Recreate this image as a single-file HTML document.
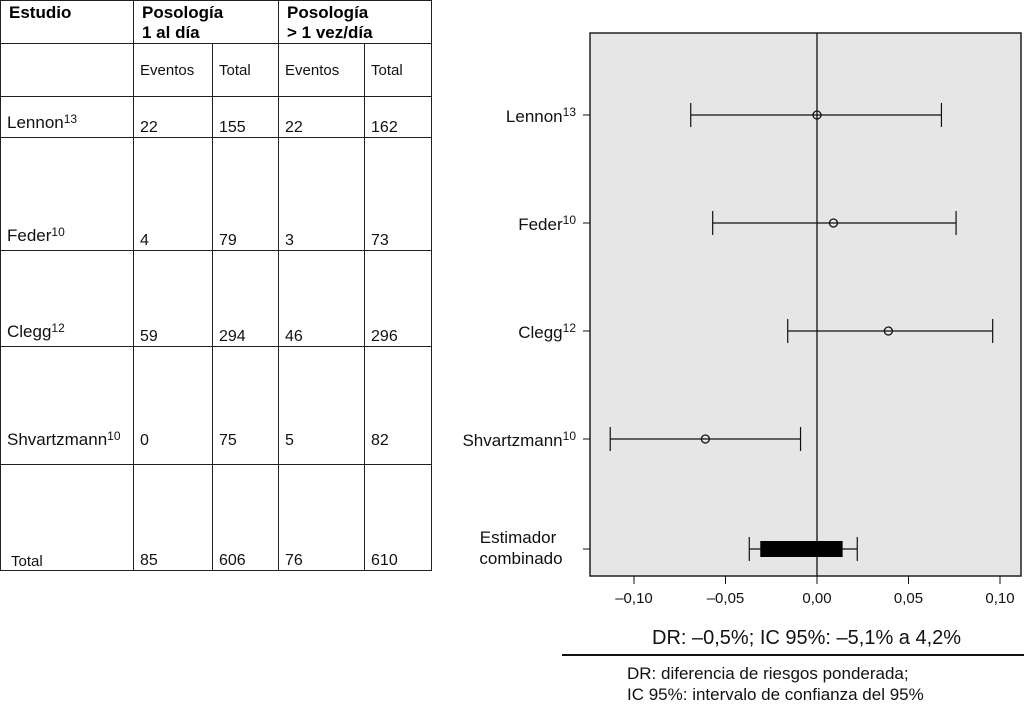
<!DOCTYPE html>
<html><head><meta charset="utf-8"><style>
body{margin:0;width:1024px;height:706px;background:#fff;font-family:"Liberation Sans",sans-serif;overflow:hidden;position:relative}
table{position:absolute;left:0;top:0;border-collapse:collapse;table-layout:fixed;width:431px}
td{border:1.5px solid #222;padding:0 0 0 6px;font-size:16px;vertical-align:bottom;color:#111}
th{border:1.5px solid #222;padding:2px 0 0 8px;font-size:17px;text-align:left;vertical-align:top;line-height:20px}
sup{font-size:12px;vertical-align:5px}
.sh td{vertical-align:middle;font-size:15px}
</style></head><body>
<table>
<colgroup><col style="width:133px"><col style="width:79px"><col style="width:66px"><col style="width:86px"><col style="width:67px"></colgroup>
<tr style="height:42px"><th>Estudio</th><th colspan="2">Posología<br>1 al día</th><th colspan="2">Posología<br>&gt; 1 vez/día</th></tr>
<tr class="sh" style="height:53px"><td></td><td>Eventos</td><td>Total</td><td>Eventos</td><td>Total</td></tr>
<tr style="height:41px"><td style="padding-bottom:4px;font-size:17px">Lennon<sup>13</sup></td><td>22</td><td>155</td><td>22</td><td>162</td></tr>
<tr style="height:113px"><td style="padding-bottom:4px;font-size:17px">Feder<sup>10</sup></td><td>4</td><td>79</td><td>3</td><td>73</td></tr>
<tr style="height:96px"><td style="padding-bottom:4px;font-size:17px">Clegg<sup>12</sup></td><td>59</td><td>294</td><td>46</td><td>296</td></tr>
<tr style="height:118px"><td style="padding-bottom:14px;font-size:17px">Shvartzmann<sup>10</sup></td><td style="padding-bottom:14px">0</td><td style="padding-bottom:14px">75</td><td style="padding-bottom:14px">5</td><td style="padding-bottom:14px">82</td></tr>
<tr style="height:106px"><td style="padding-left:10px;font-size:15px">Total</td><td>85</td><td>606</td><td>76</td><td>610</td></tr>
</table>
<svg id="c" width="1024" height="706" style="position:absolute;left:0;top:0"></svg>
<script>
const studies=["Lennon","Feder","Clegg","Shvartzmann"];
const supsFix=["13","10","12","10"];
const est=[0.000,0.009,0.039,-0.061];
const lo=[-0.069,-0.057,-0.016,-0.113];
const hi=[0.068,0.076,0.096,-0.009];
const comb=[-0.031,0.014];
const combCI=[-0.037,0.022];
const ticks=[-0.10,-0.05,0.00,0.05,0.10];
const tickLabels=["\u20130,10","\u20130,05","0,00","0,05","0,10"];
const NS="http://www.w3.org/2000/svg",s=document.getElementById('c');
const X=v=>817+v*1830;
const rowY=[115,223,331,439,549];
function el(t,a,p){const e=document.createElementNS(NS,t);for(const k in a)e.setAttribute(k,a[k]);(p||s).appendChild(e);return e;}
const bg=el('rect',{x:590,y:33,width:431,height:543,fill:'#e6e6e6',stroke:'#222','stroke-width':1.5});


const zl=el('line',{x1:X(0),x2:X(0),y1:33,y2:576,stroke:'#111','stroke-width':1.3});


ticks.forEach((t,i)=>{
 el('line',{x1:X(t),x2:X(t),y1:576,y2:584,stroke:'#111'});
 const tx=el('text',{x:X(t),y:603,'text-anchor':'middle','font-size':15,fill:'#111'});
 tx.textContent=tickLabels[i];
 
 
});
studies.forEach((n,i)=>{
 const y=rowY[i];
 el('line',{x1:583,x2:590,y1:y,y2:y,stroke:'#111'});
 const g=el('g',{});
 
 
 el('line',{x1:X(lo[i]),x2:X(hi[i]),y1:y,y2:y,stroke:'#111','stroke-width':1.2},g);
 el('line',{x1:X(lo[i]),x2:X(lo[i]),y1:y-12,y2:y+12,stroke:'#111','stroke-width':1.2},g);
 el('line',{x1:X(hi[i]),x2:X(hi[i]),y1:y-12,y2:y+12,stroke:'#111','stroke-width':1.2},g);
 el('circle',{cx:X(est[i]),cy:y,r:4,fill:'none',stroke:'#111','stroke-width':1.3},g);
 const t=el('text',{x:576,y:y+7,'text-anchor':'end','font-size':17,fill:'#111'});
 t.innerHTML=n+'<tspan font-size="12" dy="-6">'+supsFix[i]+'</tspan>';
 
 
});
const cy=rowY[4];
el('line',{x1:583,x2:590,y1:cy,y2:cy,stroke:'#111'});
const cg=el('g',{});


el('line',{x1:X(combCI[0]),x2:X(combCI[1]),y1:cy,y2:cy,stroke:'#111','stroke-width':1.2},cg);
combCI.forEach(v=>el('line',{x1:X(v),x2:X(v),y1:cy-12,y2:cy+12,stroke:'#111','stroke-width':1.2},cg));
el('rect',{x:X(comb[0]),y:cy-8,width:X(comb[1])-X(comb[0]),height:16,fill:'#000'},cg);
const cl=el('text',{x:518,y:543,'text-anchor':'middle','font-size':17,fill:'#111'});
cl.innerHTML='<tspan x="518">Estimador</tspan><tspan x="521" dy="21">combinado</tspan>';


</script>
<div style="position:absolute;left:652px;top:627px;font-size:20px;color:#111">DR: –0,5%; IC 95%: –5,1% a 4,2%</div>
<div style="position:absolute;left:562px;top:654px;width:462px;height:2px;background:#111"></div>
<div style="position:absolute;left:627px;top:663px;font-size:17px;line-height:21px;color:#111">DR: diferencia de riesgos ponderada;<br>IC 95%: intervalo de confianza del 95%</div>
</body></html>
